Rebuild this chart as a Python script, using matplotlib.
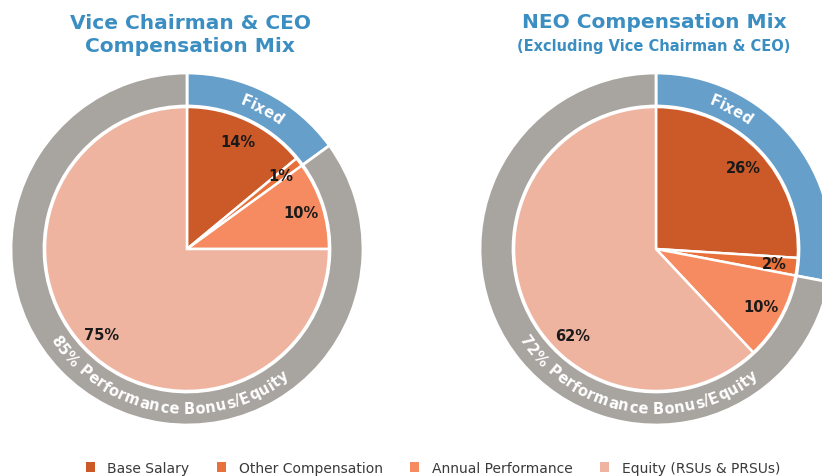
import matplotlib
matplotlib.use("Agg")
import matplotlib.pyplot as plt
import numpy as np
from matplotlib.patches import Patch
from matplotlib.textpath import TextToPath
from matplotlib.font_manager import FontProperties

# ---- data ----
categories = ["Base Salary", "Other Compensation", "Annual Performance", "Equity (RSUs & PRSUs)"]
ceo_values = [14, 1, 10, 75]
neo_values = [26, 2, 10, 62]
ceo_ring_labels = ["Fixed", "85% Performance Bonus/Equity"]
neo_ring_labels = ["Fixed", "72% Performance Bonus/Equity"]
titles = ["Vice Chairman & CEO\nCompensation Mix", "NEO Compensation Mix"]
subtitle = "(Excluding Vice Chairman & CEO)"

colors = ["#CC5A28", "#E8703A", "#F68B61", "#EFB4A0"]
ring_colors = ["#679FCB", "#A8A5A0"]
title_color = "#3B8EC2"

W, H = 822, 477
fig = plt.figure(figsize=(W / 100, H / 100), dpi=100)
ax = fig.add_axes([0, 0, 1, 1])
ax.set_xlim(0, W)
ax.set_ylim(0, H)
ax.set_aspect("equal")
ax.axis("off")

R_IN = 142
R_OUT = 176
RING_W = 33
FAMILY = ["DejaVu Sans"]
fp_ring = FontProperties(family=FAMILY, weight="bold", size=10.5)
t2p = TextToPath()


def curved_text(text, cx, cy, r, center_deg, direction, fp, color="white"):
    widths = []
    for ch in text:
        w, h, d = t2p.get_text_width_height_descent(ch, fp, ismath=False)
        widths.append(w * 100 / 72 * 1.03)
    total = sum(widths)
    span = total / r
    c = np.radians(center_deg)
    cum = 0
    for ch, w in zip(text, widths):
        off = (cum + w / 2) / r
        if direction > 0:
            a = c - span / 2 + off
            rot = np.degrees(a) + 90
        else:
            a = c + span / 2 - off
            rot = np.degrees(a) - 90
        ax.text(cx + r * np.cos(a), cy + r * np.sin(a), ch, rotation=rot,
                rotation_mode="anchor", ha="center", va="center",
                fontproperties=fp, color=color)
        cum += w


def draw(values, ring_labels, cx, cy, equity_label_deg):
    fixed = values[0] + values[1]
    ring_vals = [fixed, 100 - fixed]
    ax.pie(ring_vals, colors=ring_colors, startangle=90, counterclock=False,
           radius=R_OUT, center=(cx, cy),
           wedgeprops=dict(width=RING_W, edgecolor="white", linewidth=2))
    wedges, texts, autotexts = ax.pie(
        values, colors=colors, startangle=90, counterclock=False,
        radius=R_IN, center=(cx, cy), autopct="%d%%", pctdistance=0.84,
        wedgeprops=dict(edgecolor="white", linewidth=1.8),
        textprops=dict(fontsize=10.5, fontweight="bold", color="#1A1A1A",
                       family=FAMILY))
    a = np.radians(equity_label_deg)
    autotexts[3].set_position((cx + 0.85 * R_IN * np.cos(a), cy + 0.85 * R_IN * np.sin(a)))
    r_mid = R_OUT - RING_W / 2
    curved_text(ring_labels[0], cx, cy, r_mid, 62, -1, fp_ring)
    curved_text(ring_labels[1], cx, cy, r_mid, 261, +1, fp_ring)


cy = H - 250
draw(ceo_values, ceo_ring_labels, 187, cy, 225)
draw(neo_values, neo_ring_labels, 656, cy, 226)

ax.set_xlim(0, W)
ax.set_ylim(0, H)

ax.text(190, H - 35, titles[0], ha="center", va="center", fontsize=14.5,
        fontweight="bold", color=title_color, family=FAMILY, linespacing=1.25)
ax.text(654, H - 22, titles[1], ha="center", va="center", fontsize=14.5,
        fontweight="bold", color=title_color, family=FAMILY)
ax.text(654, H - 47, subtitle, ha="center", va="center", fontsize=10.5,
        fontweight="bold", color=title_color, family=FAMILY)

handles = [Patch(facecolor=c, edgecolor="none") for c in colors]
fig.legend(handles, categories, loc="center", bbox_to_anchor=(433 / W, 8 / H),
           ncol=4, frameon=False, handlelength=0.65, handleheight=0.65,
           handletextpad=0.9, columnspacing=2.0,
           prop=FontProperties(family=FAMILY, size=10), labelcolor="#3A3A3A")

fig.savefig("out.png", dpi=100)
